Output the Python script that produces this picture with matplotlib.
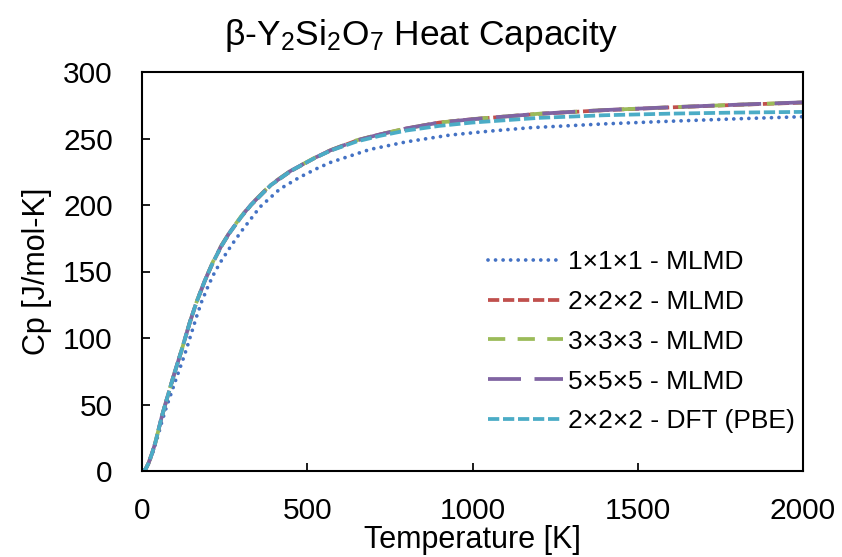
import matplotlib
matplotlib.use("Agg")
import matplotlib.pyplot as plt

plt.rcParams['font.family'] = ['Liberation Sans', 'DejaVu Sans']
plt.rcParams['mathtext.default'] = 'regular'

# ---- data ----
T_mlmd = [0, 10, 20, 30, 40, 50, 60, 75, 95, 120, 145, 165, 190, 215, 240, 265,
          300, 330, 390, 450, 520, 570, 650, 720, 800, 900, 1000, 1200, 1400,
          1600, 1800, 2000]
cp_2x2x2 = [0, 1, 6, 13, 21, 31, 41, 54, 71, 91, 112, 127, 143, 157, 169, 179,
            191, 200, 215, 225.5, 235, 241, 248.5, 253, 257.5, 262, 264.5, 268.5,
            271.3, 273.4, 275.3, 277]
cp_3x3x3 = [0, 1, 6, 13, 21, 31, 41, 54, 71, 91, 112, 127, 143, 157.5, 169.5, 179.5,
            191.5, 200.5, 215.5, 225.8, 235.2, 241.2, 248.7, 253.2, 257.6, 262, 264.6, 268.6,
            271.4, 273.5, 275.4, 277.1]
cp_5x5x5 = [0, 1, 6, 13, 21, 31, 41, 54, 71, 91, 112, 127, 143, 157.3, 169.3, 179.3,
            191.3, 200.3, 215.3, 225.7, 235.1, 241.1, 248.6, 253.1, 257.6, 262, 264.5, 268.6,
            271.4, 273.5, 275.4, 277.2]
cp_dft = [0, 1, 6, 13, 21, 31, 41, 54, 71, 91, 112, 127, 143, 157, 169, 179,
          191, 200, 215, 225.5, 235, 240.8, 247.8, 252, 256, 259.5, 262, 265.5,
          267.5, 268.7, 269.5, 270]

T_1x1x1 = [0, 10, 20, 30, 40, 50, 60, 75, 85, 100, 120, 135, 150, 165, 180, 200,
           220, 240, 270, 300, 357, 417, 478, 530, 570, 690, 800, 932, 1050, 1174,
           1400, 1600, 1800, 2000]
cp_1x1x1 = [0, 1, 5.5, 12, 19.5, 28, 37, 49, 56, 67, 81, 92, 104, 116, 127, 139,
            149.5, 158, 169.5, 180, 198.5, 212, 221, 227.5, 232, 241.8, 247.5, 252.6,
            255.5, 258.1, 261, 263, 264.8, 266.4]

labels = ['1×1×1 - MLMD', '2×2×2 - MLMD', '3×3×3 - MLMD', '5×5×5 - MLMD',
          '2×2×2 - DFT (PBE)']
colors = ['#4472C4', '#C0504D', '#9BBB59', '#8064A2', '#4BACC6']

title = r'β-Y$_2$Si$_2$O$_7$ Heat Capacity'
xlabel = 'Temperature [K]'
ylabel = 'Cp [J/mol-K]'
xticks = [0, 500, 1000, 1500, 2000]
yticks = [0, 50, 100, 150, 200, 250, 300]

# ---- figure ----
fig = plt.figure(figsize=(8.42, 5.57), dpi=100)
ax = fig.add_axes([142/842, 1 - 471/557, 661/842, 399/557])

lw = 2.7
ax.plot(T_1x1x1, cp_1x1x1, color=colors[0], lw=lw, ls=(0, (0.01, 2.0)),
        dash_capstyle='round', label=labels[0])
ax.plot(T_mlmd, cp_2x2x2, color=colors[1], lw=lw, ls=(0, (3.0, 1.0)),
        label=labels[1])
ax.plot(T_mlmd, cp_3x3x3, color=colors[2], lw=lw, ls=(0, (4.6, 3.3)),
        label=labels[2])
ax.plot(T_mlmd, cp_5x5x5, color=colors[3], lw=lw, ls=(0, (8.8, 3.6)),
        label=labels[3])
ax.plot(T_mlmd, cp_dft, color=colors[4], lw=lw, ls=(0, (3.0, 1.0)),
        label=labels[4])

ax.set_xlim(0, 2000)
ax.set_ylim(0, 300)
ax.set_xticks(xticks)
ax.set_yticks(yticks)
ax.tick_params(axis='both', direction='in', length=6, width=1.25,
               labelsize=21.5, colors='black')
ax.tick_params(axis='x', pad=19)
ax.tick_params(axis='y', pad=21)
for s in ax.spines.values():
    s.set_linewidth(1.5)
    s.set_color('black')

ax.set_xlabel(xlabel, fontsize=22, va='baseline')
ax.set_ylabel(ylabel, fontsize=22, va='baseline')
ax.xaxis.set_label_coords(0.5, (471 - 548) / 399)
ax.yaxis.set_label_coords((45 - 142) / 661, 0.5)

fig.text(0.5, 1 - 45/557, title, ha='center', va='baseline', fontsize=25.5)

leg = ax.legend(loc='center left', bbox_to_anchor=(0.5234, 0.324),
                frameon=False, fontsize=19, handlelength=2.85,
                handletextpad=0.2, labelspacing=0.6, borderpad=0,
                borderaxespad=0)

fig.savefig('out.png', dpi=100)
